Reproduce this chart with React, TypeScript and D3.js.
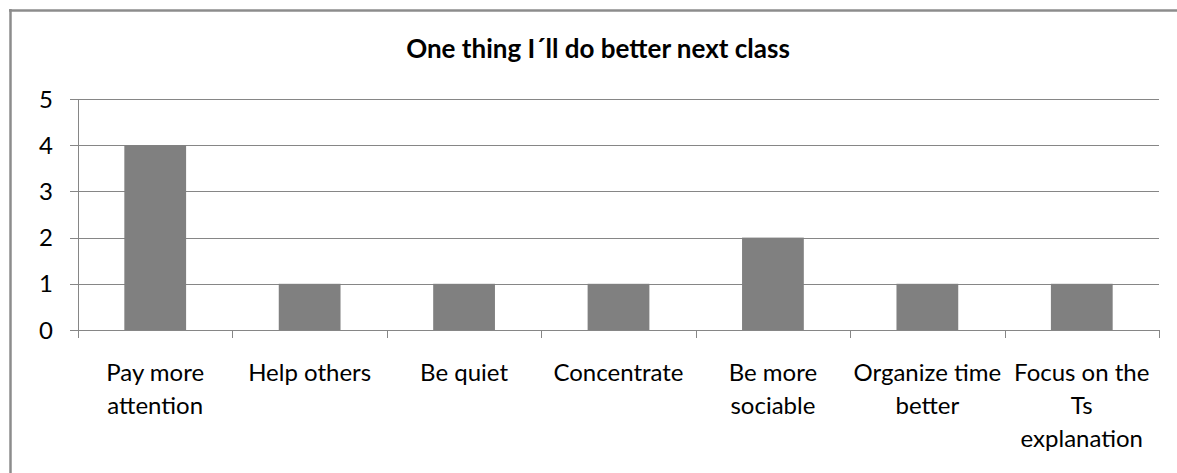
import React, { useEffect } from "react";
import * as d3 from "d3";

const categories: string[][] = [
  ["Pay more", "attention"],
  ["Help others"],
  ["Be quiet"],
  ["Concentrate"],
  ["Be more", "sociable"],
  ["Organize time", "better"],
  ["Focus on the", "Ts", "explanation"],
];
const values: number[] = [4, 1, 1, 1, 2, 1, 1];
const yTicks: number[] = [0, 1, 2, 3, 4, 5];
const title = "One thing I´ll do better next class";

const W = 1177;
const H = 473;
const plot = { left: 78, right: 1159, top: 99, bottom: 330 };
const FONT = "Lato, 'Open Sans', sans-serif";

export default function App() {
  useEffect(() => {
    document.body.style.margin = "0";
    document.body.style.overflow = "hidden";
  }, []);

  const keys = categories.map((_, i) => String(i));
  const x = d3
    .scaleBand<string>()
    .domain(keys)
    .range([plot.left, plot.right])
    .paddingInner(0.6)
    .paddingOuter(0.3);
  const step = (plot.right - plot.left) / categories.length;
  const y = d3.scaleLinear().domain([0, 5]).range([plot.bottom, plot.top]);

  return (
    <svg
      width={W}
      height={H}
      style={{ position: "fixed", left: 0, top: 0, display: "block" }}
      fontFamily={FONT}
    >
      <rect x={0} y={0} width={W} height={H} fill="#fff" />
      {/* chart frame: left and top edges only, the rest is cut off */}
      <line x1={10.5} x2={10.5} y1={9} y2={H} stroke="#8c8c8c" strokeWidth={2.5} />
      <line x1={9} x2={W} y1={10.5} y2={10.5} stroke="#8c8c8c" strokeWidth={2.5} />
      <text
        x={598}
        y={58}
        textAnchor="middle"
        fontSize={26}
        fontWeight="bold"
        fill="#000"
      >
        {title}
      </text>

      {/* horizontal gridlines and y ticks */}
      {yTicks.map((t) => (
        <g key={t}>
          <line
            x1={70}
            x2={plot.right}
            y1={Math.round(y(t)) + 0.5}
            y2={Math.round(y(t)) + 0.5}
            stroke="#868686"
            strokeWidth={1}
          />
          <text
            x={53}
            y={y(t) + 8.5}
            textAnchor="end"
            fontSize={24}
            fill="#000"
          >
            {t}
          </text>
        </g>
      ))}

      {/* bars */}
      {values.map((v, i) => (
        <rect
          key={i}
          x={x(String(i))}
          y={y(v)}
          width={x.bandwidth()}
          height={y(0) - y(v)}
          fill="#808080"
        />
      ))}

      {/* y axis line */}
      <line
        x1={plot.left + 0.5}
        x2={plot.left + 0.5}
        y1={plot.top}
        y2={plot.bottom + 8}
        stroke="#868686"
      />
      {/* x category tick marks */}
      {d3.range(categories.length + 1).map((i) => {
        const tx = Math.round(plot.left + i * step) + 0.5;
        return (
          <line
            key={i}
            x1={tx}
            x2={tx}
            y1={plot.bottom}
            y2={plot.bottom + 8}
            stroke="#868686"
          />
        );
      })}

      {/* category labels */}
      {categories.map((lines, i) => {
        const cx = plot.left + (i + 0.5) * step;
        return (
          <text key={i} textAnchor="middle" fontSize={24} fill="#000">
            {lines.map((ln, j) => (
              <tspan key={j} x={cx} y={381 + j * 33}>
                {ln}
              </tspan>
            ))}
          </text>
        );
      })}
    </svg>
  );
}
